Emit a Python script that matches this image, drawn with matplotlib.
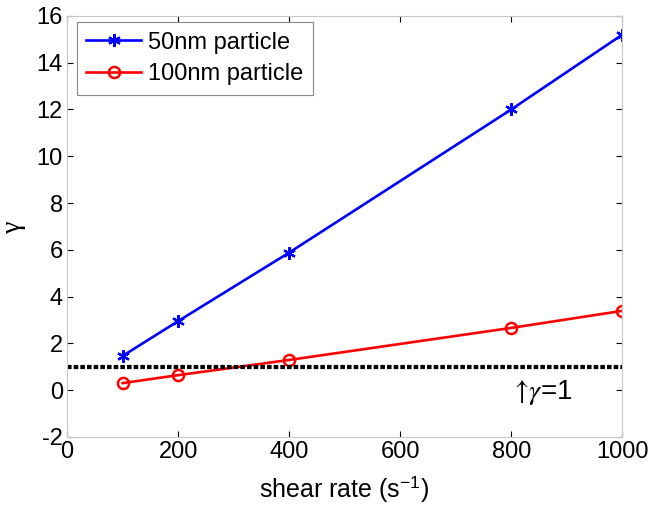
import matplotlib
matplotlib.use("Agg")
import matplotlib.pyplot as plt

plt.rcParams['font.family'] = ['Liberation Sans', 'DejaVu Sans']
plt.rcParams['axes.unicode_minus'] = False
plt.rcParams['mathtext.fontset'] = 'stix'

# shear rate values and gamma for each particle size
shear_rate = [100, 200, 400, 800, 1000]
gamma_50nm = [1.46, 2.95, 5.88, 12.0, 15.2]
gamma_100nm = [0.3, 0.64, 1.29, 2.66, 3.39]
threshold_x = [0, 1000]
threshold_y = [1, 1]

fig = plt.figure(figsize=(6.54, 5.14), dpi=100)
ax = fig.add_axes([0.1025, 0.150, 0.849, 0.819])

ax.plot(shear_rate, gamma_50nm, color='blue', lw=1.9, marker=(6, 2, 0),
        markersize=9, markeredgewidth=1.6, label='50nm particle')
ax.plot(shear_rate, gamma_100nm, color='red', lw=1.9, marker='o',
        markersize=8, markerfacecolor='none', markeredgewidth=1.8,
        label='100nm particle')
ax.plot(threshold_x, threshold_y, color='black', ls=(0, (1.1, 0.5)), lw=3)

ax.text(797, -0.1, r'$\uparrow\!\gamma$=1', fontsize=20, va='center', ha='left')

ax.set_xlim(0, 1000)
ax.set_ylim(-2, 16)
ax.set_xticks(range(0, 1001, 200))
ax.set_yticks(range(-2, 17, 2))
ax.tick_params(direction='in', top=True, right=True, labelsize=17,
               length=4, color='black', pad=3)
for s in ax.spines.values():
    s.set_color('#c8c8c8')

ax.set_xlabel(r'shear rate (s$^{\mathregular{-1}}$)', fontsize=18, labelpad=8)
ax.set_ylabel('\u03b3', family='Liberation Serif', fontsize=20)
ax.yaxis.set_label_coords(-0.074, 0.5)

leg = ax.legend(loc='upper left', bbox_to_anchor=(0.018, 0.985), fontsize=17,
                fancybox=False, edgecolor='#888888', framealpha=1,
                handlelength=2.3, handletextpad=0.3, borderpad=0.4,
                labelspacing=0.4, borderaxespad=0)
leg.get_frame().set_linewidth(0.8)

fig.savefig('out.png', dpi=100)
